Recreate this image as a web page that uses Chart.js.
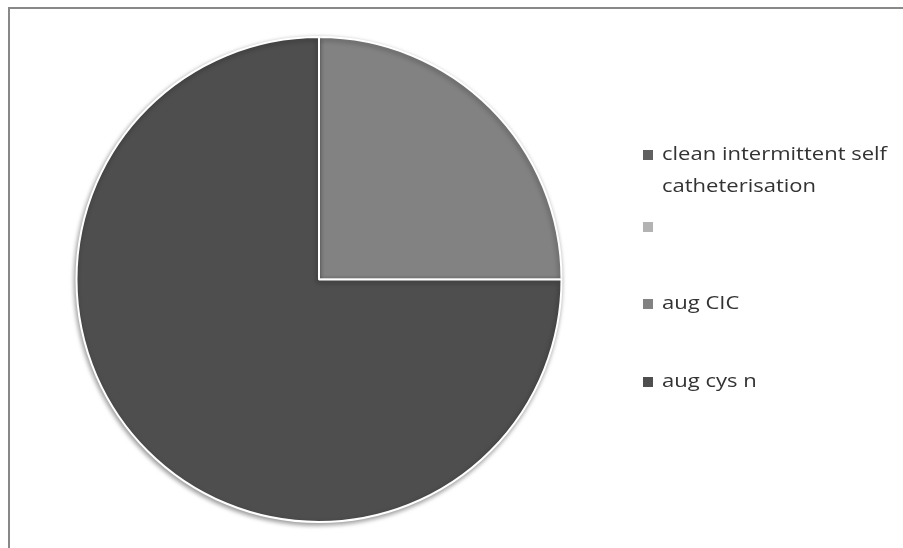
<!DOCTYPE html>
<html>
<head>
<meta charset="utf-8">
<script src="https://cdn.jsdelivr.net/npm/chart.js@4/dist/chart.umd.min.js"></script>
<style>
  html, body { margin: 0; padding: 0; background: #fff; }
  #wrap { position: relative; width: 903px; height: 548px; }
  #frame { position: absolute; left: 8px; top: 7px; right: -2px; bottom: -2px; border: 2px solid #888; }
  canvas { position: absolute; left: 0; top: 0; }
</style>
</head>
<body>
<div id="wrap">
  <div id="frame"></div>
  <canvas id="myChart" width="903" height="548"></canvas>
</div>
<script>
// pie data
const labels = ["clean intermittent self catheterisation", "", "aug CIC", "aug cys n"];
const values = [0, 0, 1, 3];
const colors = ["#606060", "#b3b3b3", "#828282", "#4e4e4e"];
// legend text split like the original wraps it
const legendLines = [["clean intermittent self", "catheterisation"], [""], ["aug CIC"], ["aug cys n"]];
const legendY = [155, 227, 304, 382];

// soft shadow under the pie
const shadowPlugin = {
  id: "pieShadow",
  beforeDatasetsDraw(chart) {
    const ctx = chart.ctx;
    ctx.save();
    ctx.shadowColor = "rgba(0,0,0,0.4)";
    ctx.shadowBlur = 5;
    ctx.shadowOffsetX = -1;
    ctx.shadowOffsetY = 2;
  },
  afterDatasetsDraw(chart) {
    chart.ctx.restore();
  },
};

// legend on the right, drawn by hand so the first label can wrap
const legendPlugin = {
  id: "sideLegend",
  afterDraw(chart) {
    const ctx = chart.ctx;
    ctx.save();
    ctx.font = "19px 'Open Sans', sans-serif";
    ctx.textBaseline = "middle";
    // the original text is a little wider than Open Sans, stretch to match
    const sx = 225 / ctx.measureText("clean intermittent self").width;
    for (let i = 0; i < labels.length; i++) {
      const y = legendY[i];
      ctx.fillStyle = colors[i];
      ctx.fillRect(643, y - 5, 10, 10);
      ctx.fillStyle = "#333333";
      legendLines[i].forEach((line, j) => {
        ctx.save();
        ctx.translate(662, y + j * 32);
        ctx.scale(sx, 1);
        ctx.fillText(line, 0, 0);
        ctx.restore();
      });
    }
    ctx.restore();
  },
};

let ctx = document.getElementById("myChart").getContext("2d");
let myChart = new Chart(ctx, {
  type: "pie",
  data: {
    labels: labels,
    datasets: [
      {
        data: values,
        backgroundColor: colors,
        borderColor: "#ffffff",
        borderWidth: 2,
      },
    ],
  },
  options: {
    responsive: false,
    animation: false,
    layout: { padding: { left: 75, right: 340, top: 36, bottom: 25 } },
    plugins: {
      legend: { display: false },
      tooltip: { enabled: false },
    },
  },
  plugins: [shadowPlugin, legendPlugin],
});
</script>
</body>
</html>
